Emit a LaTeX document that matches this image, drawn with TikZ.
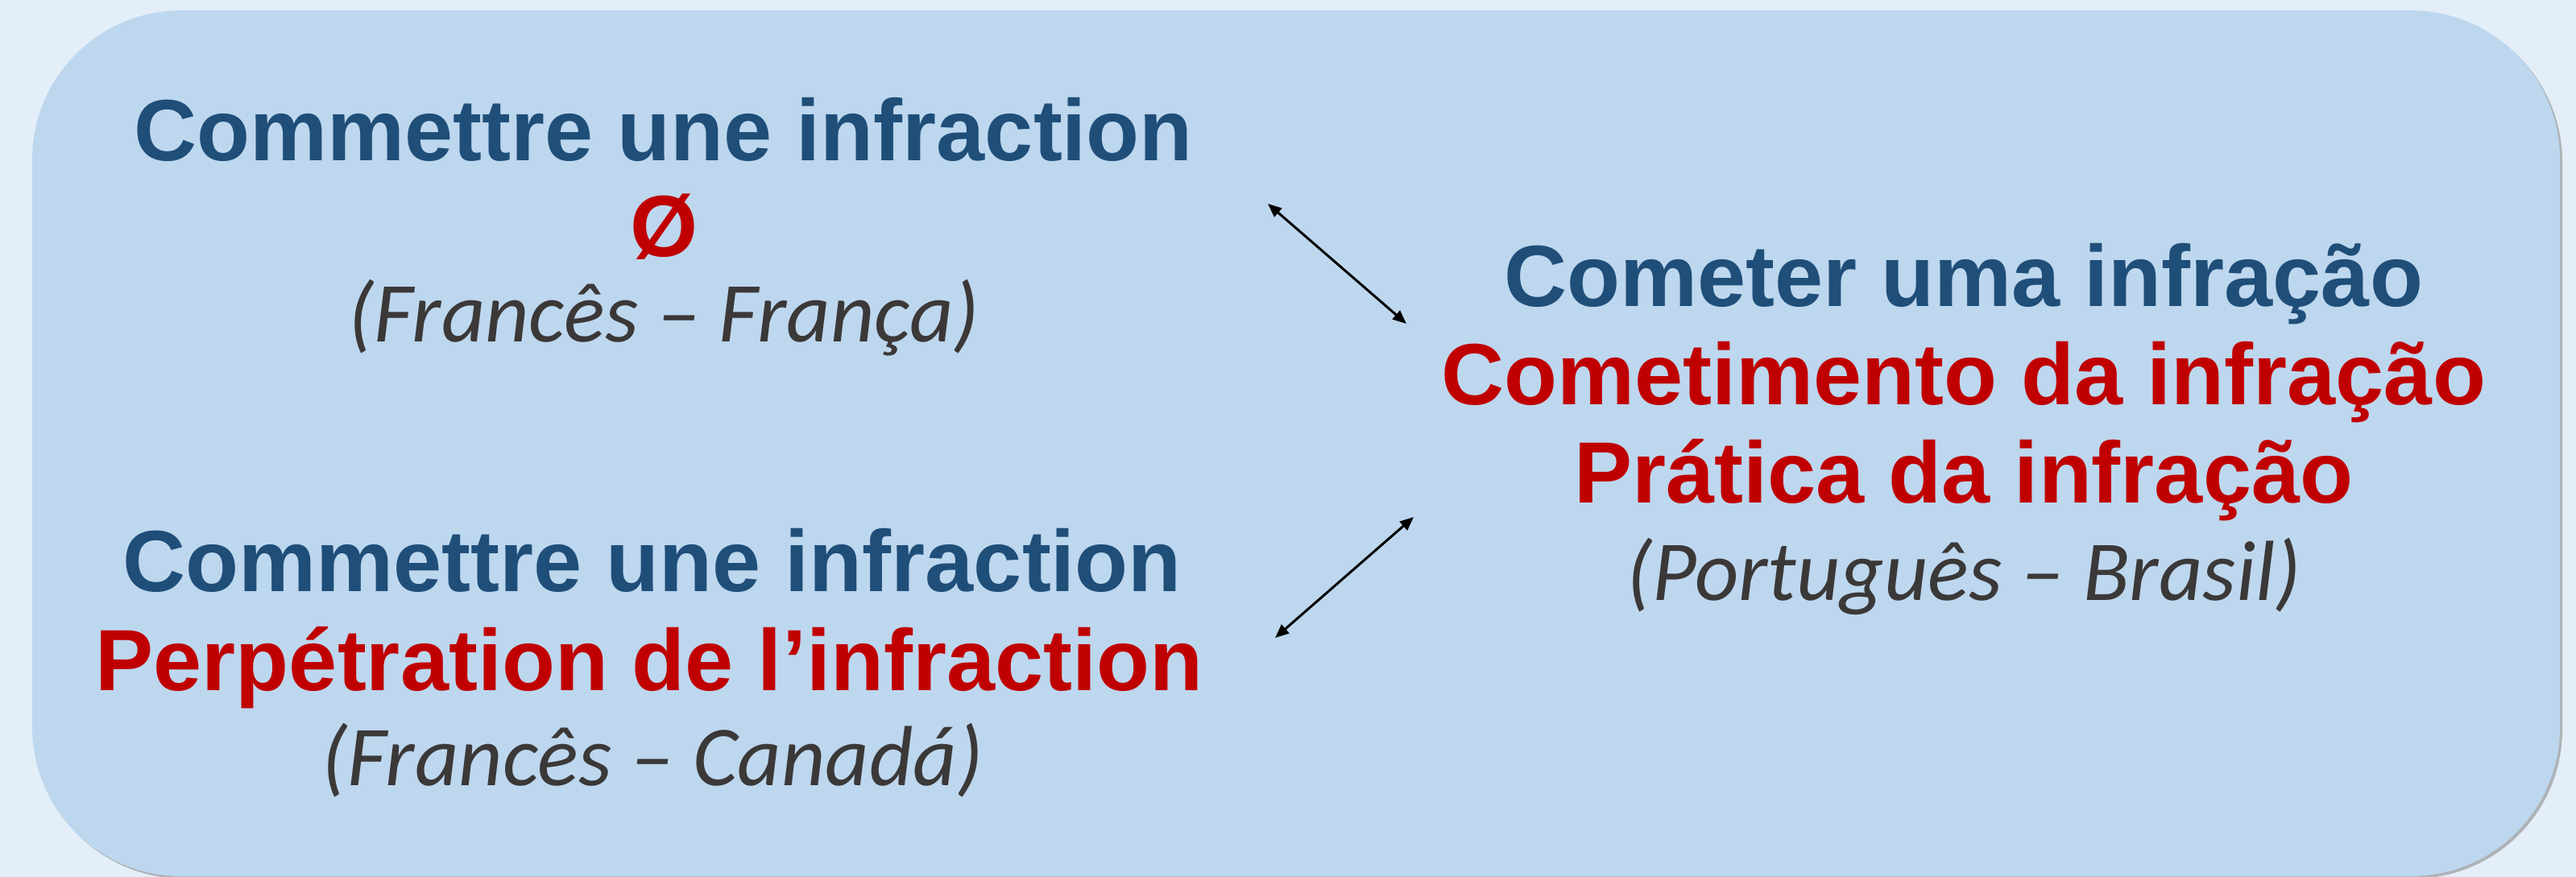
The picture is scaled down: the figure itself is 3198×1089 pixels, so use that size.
\documentclass[tikz,border=0pt]{standalone}
\usepackage{fontspec}
\setmainfont{Liberation Sans}
\newfontfamily\calib{Carlito}
\usetikzlibrary{arrows.meta}
\definecolor{pagebg}{HTML}{E3EEF8}
\definecolor{boxbg}{HTML}{BDD7EE}
\definecolor{dblue}{HTML}{1F4E79}
\definecolor{dred}{HTML}{C00000}
\definecolor{dgray}{HTML}{3B3838}
\tikzset{
  bl/.style={anchor=base, text=dblue, font=\fontsize{108}{120}\selectfont\bfseries, inner sep=0pt},
  rd/.style={anchor=base, text=dred, font=\fontsize{108}{120}\selectfont\bfseries, inner sep=0pt},
  it/.style={anchor=base, text=dgray, font=\fontsize{106}{120}\selectfont\calib\itshape, inner sep=0pt},
  dbl/.style={{Triangle[length=17pt,width=14pt]}-{Triangle[length=17pt,width=14pt]}, line width=3pt, black}
}
\begin{document}
\begin{tikzpicture}[x=1pt,y=-1pt]
\fill[pagebg] (0,0) rectangle (3198,1089);
\useasboundingbox (0,0) rectangle (3198,1089);
\fill[black!45, opacity=0.6, rounded corners=185pt] (43,16) rectangle (3181,1091);
\fill[boxbg, rounded corners=185pt] (40,13) rectangle (3178,1088);
% left top
\node[bl] (a1) at (824,199) {Commettre une infraction};
\node[rd] (a2) at (824,318) {Ø};
\node[it] (a3) at (824,424) {(Francês – França)};
% left bottom
\node[bl] (b1) at (810,734) {Commettre une infraction};
\node[rd] (b2) at (806,857) {Perpétration de l’infraction};
\node[it] (b3) at (810,975) {(Francês – Canadá)};
% right
\node[bl] (c1) at (2438,380) {Cometer uma infração};
\node[rd] (c2) at (2438,502) {Cometimento da infração};
\node[rd] (c3) at (2438,624) {Prática da infração};
\node[it] (c4) at (2438,745) {(Português – Brasil)};
% arrows
\coordinate (p1) at (1574,253);
\coordinate (p2) at (1746,402);
\coordinate (q1) at (1755,642);
\coordinate (q2) at (1583,792);
\draw[dbl] (p1) -- (p2);
\draw[dbl] (q1) -- (q2);
\end{tikzpicture}
\end{document}
